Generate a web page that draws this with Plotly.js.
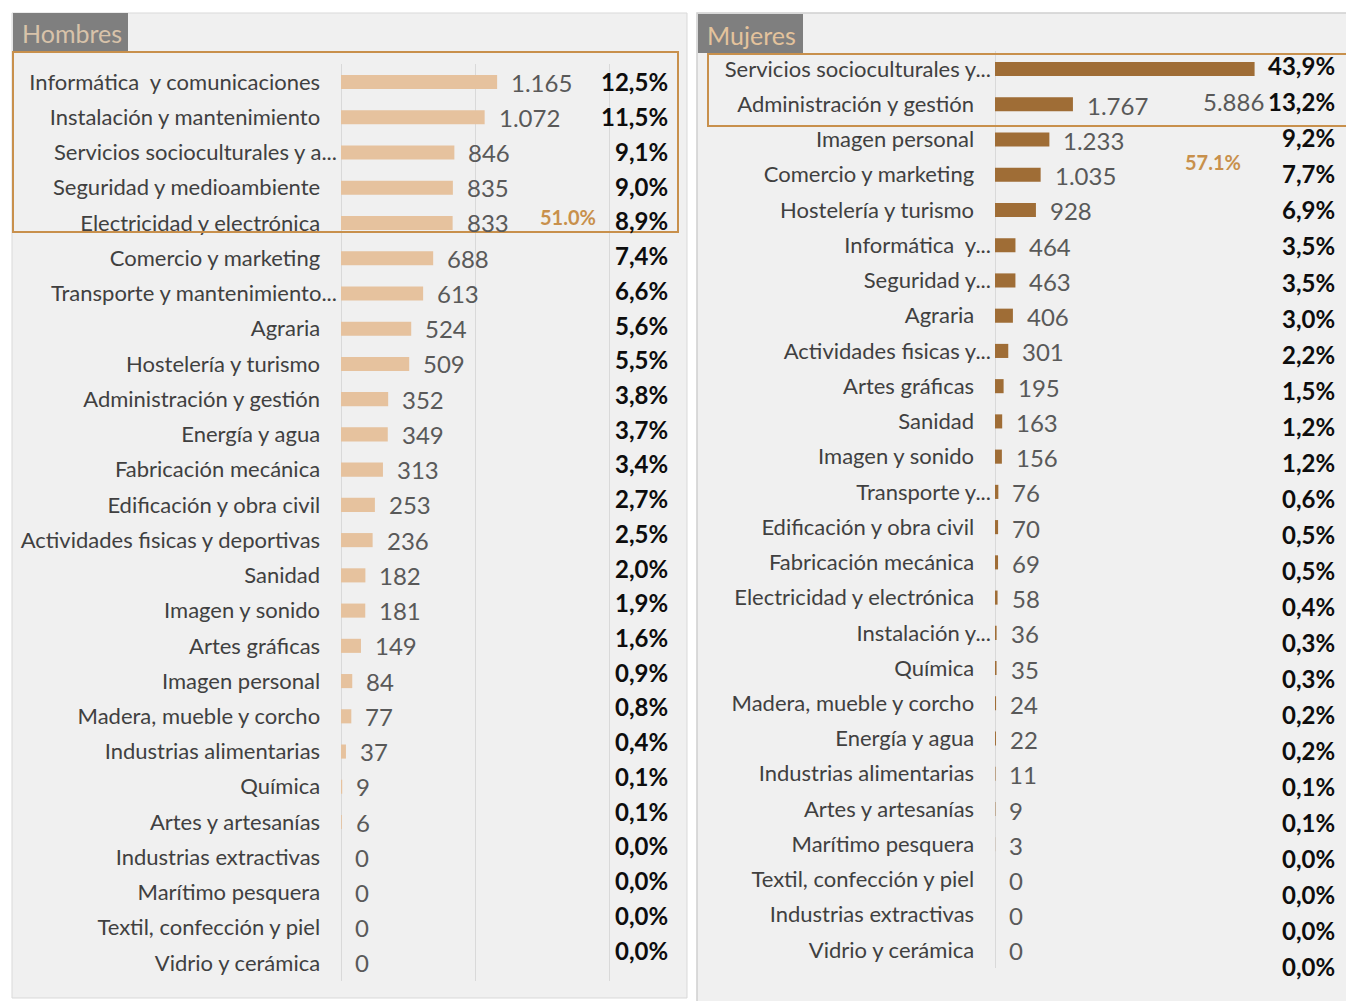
<!DOCTYPE html>
<html><head><meta charset="utf-8">
<script src="https://cdn.plot.ly/plotly-3.0.1.min.js"></script>
<style>html,body{margin:0;padding:0;background:#fff}#chart{width:1346px;height:1001px}</style>
</head><body><div id="chart"></div>
<script>
// ---------- DATA ----------
const catsH = ["Informática  y comunicaciones","Instalación y mantenimiento","Servicios socioculturales y a...","Seguridad y medioambiente","Electricidad y electrónica","Comercio y marketing","Transporte y mantenimiento...","Agraria","Hostelería y turismo","Administración y gestión","Energía y agua","Fabricación mecánica","Edificación y obra civil","Actividades fisicas y deportivas","Sanidad","Imagen y sonido","Artes gráficas","Imagen personal","Madera, mueble y corcho","Industrias alimentarias","Química","Artes y artesanías","Industrias extractivas","Marítimo pesquera","Textil, confección y piel","Vidrio y cerámica"];
const valsH = [1165,1072,846,835,833,688,613,524,509,352,349,313,253,236,182,181,149,84,77,37,9,6,0,0,0,0];
const pctH  = [12.5,11.5,9.1,9.0,8.9,7.4,6.6,5.6,5.5,3.8,3.7,3.4,2.7,2.5,2.0,1.9,1.6,0.9,0.8,0.4,0.1,0.1,0.0,0.0,0.0,0.0];

const catsM = ["Servicios socioculturales y...","Administración y gestión","Imagen personal","Comercio y marketing","Hostelería y turismo","Informática  y...","Seguridad y...","Agraria","Actividades fisicas y...","Artes gráficas","Sanidad","Imagen y sonido","Transporte y...","Edificación y obra civil","Fabricación mecánica","Electricidad y electrónica","Instalación y...","Química","Madera, mueble y corcho","Energía y agua","Industrias alimentarias","Artes y artesanías","Marítimo pesquera","Textil, confección y piel","Industrias extractivas","Vidrio y cerámica"];
const valsM = [5886,1767,1233,1035,928,464,463,406,301,195,163,156,76,70,69,58,36,35,24,22,11,9,3,0,0,0];
const pctM  = [43.9,13.2,9.2,7.7,6.9,3.5,3.5,3.0,2.2,1.5,1.2,1.2,0.6,0.5,0.5,0.4,0.3,0.3,0.2,0.2,0.1,0.1,0.0,0.0,0.0,0.0];

const panelTitles = ["Hombres","Mujeres"];
const topShare = ["51.0%","57.1%"];

// ---------- HELPERS ----------
const W = 1346, H = 1001;
const px = x => x / W;
const py = y => 1 - y / H;
const fmtNum = n => String(n).replace(/\B(?=(\d{3})+(?!\d))/g, '.');
const fmtPct = p => p.toFixed(1).replace('.', ',') + '%';
const pad = s => s.endsWith('...') ? s : s + '\u00a0\u00a0\u00a0';
const FONT = 'Lato, "Open Sans", sans-serif';

const lightBar = '#e6c29e';
const darkBar = '#9f6d36';
const orange = '#c8904c';
const labelGrey = '#595959';
const catGrey = '#404040';

const traces = [
  {type:'bar', orientation:'h', x:valsH, y:catsH, xaxis:'x', yaxis:'y',
   marker:{color:lightBar}, hoverinfo:'skip'},
  {type:'bar', orientation:'h', x:valsM, y:catsM, xaxis:'x2', yaxis:'y3',
   marker:{color:darkBar}, hoverinfo:'skip'}
];

const annotations = [];
const numFont = {family:FONT, size:24, color:labelGrey};
const pctFont = {family:FONT, size:24, color:'#0d0d0d', weight:'bold'};

valsH.forEach((v,i) => annotations.push({xref:'x', yref:'y', x:v, y:catsH[i],
  text:fmtNum(v), xanchor:'left', xshift:12, yshift:0, showarrow:false, font:numFont}));
pctH.forEach((p,i) => annotations.push({xref:'x domain', yref:'y2', x:1, y:i,
  text:'<b>'+fmtPct(p)+'</b>', xanchor:'right', xshift:-6, showarrow:false, font:pctFont}));

valsM.forEach((v,i) => { if (i === 0) return;
  annotations.push({xref:'x2', yref:'y3', x:v, y:catsM[i],
  text:fmtNum(v), xanchor:'left', xshift:12, yshift:-1, showarrow:false, font:numFont}); });
// displaced label of the first (largest) bar
annotations.push({xref:'x2', yref:'y3', x:valsM[0], y:catsM[0], text:fmtNum(valsM[0]),
  xanchor:'right', xshift:11, yshift:-32, showarrow:false, font:numFont});
pctM.forEach((p,i) => annotations.push({xref:'x2 domain', yref:'y4', x:1, y:i,
  text:'<b>'+fmtPct(p)+'</b>', xanchor:'right', xshift:-2, showarrow:false, font:pctFont}));

// titles
annotations.push({xref:'paper', yref:'paper', x:px(20), y:py(33), xanchor:'left', yanchor:'middle',
  text:panelTitles[0], showarrow:false, font:{family:FONT, size:25, color:'#d8c3aa'}});
annotations.push({xref:'paper', yref:'paper', x:px(705), y:py(35), xanchor:'left', yanchor:'middle',
  text:panelTitles[1], showarrow:false, font:{family:FONT, size:25, color:'#e4c39c'}});
// share annotations
annotations.push({xref:'paper', yref:'paper', x:px(568), y:py(217), xanchor:'center', yanchor:'middle',
  text:'<b>'+topShare[0]+'</b>', showarrow:false, font:{family:FONT, size:20, color:orange}});
annotations.push({xref:'paper', yref:'paper', x:px(1213), y:py(162), xanchor:'center', yanchor:'middle',
  text:'<b>'+topShare[1]+'</b>', showarrow:false, font:{family:FONT, size:20, color:orange}});

const shapes = [
  {type:'rect', xref:'paper', yref:'paper', x0:px(12), x1:px(687), y0:py(998), y1:py(13),
   fillcolor:'#f0f0f0', line:{color:'#d9d9d9', width:1}, layer:'below'},
  {type:'rect', xref:'paper', yref:'paper', x0:px(697), x1:px(1352), y0:py(1004), y1:py(13),
   fillcolor:'#f0f0f0', line:{color:'#cfcfcf', width:1.5}, layer:'below'},
  {type:'rect', xref:'paper', yref:'paper', x0:px(13), x1:px(128), y0:py(52), y1:py(13),
   fillcolor:'#7f7f7f', line:{width:0}, layer:'below'},
  {type:'rect', xref:'paper', yref:'paper', x0:px(698), x1:px(803), y0:py(53), y1:py(14),
   fillcolor:'#7f7f7f', line:{width:0}, layer:'below'},
  {type:'rect', xref:'paper', yref:'paper', x0:px(13), x1:px(678), y0:py(232), y1:py(52),
   line:{color:orange, width:2}, layer:'above'},
  {type:'rect', xref:'paper', yref:'paper', x0:px(708), x1:px(1356), y0:py(126), y1:py(54),
   line:{color:orange, width:2}, layer:'above'}
];

const tickFont = {family:FONT, size:22, color:catGrey};

const layout = {
  width:W, height:H, margin:{l:0,r:0,t:0,b:0},
  paper_bgcolor:'#ffffff', plot_bgcolor:'rgba(0,0,0,0)',
  showlegend:false, bargap:0.6,
  font:{family:FONT},
  xaxis:{domain:[px(341), px(676)], range:[0,2500], anchor:'y',
    showgrid:true, gridcolor:'#d9d9d9', gridwidth:1, tick0:0, dtick:1000,
    zeroline:true, zerolinecolor:'#d9d9d9', zerolinewidth:1,
    showticklabels:false, ticks:'', showline:false, fixedrange:true},
  yaxis:{domain:[py(980.6), py(64.4)], type:'category', range:[25.5,-0.5], anchor:'x',
    tickvals:catsH, ticktext:catsH.map(pad), tickfont:tickFont, ticks:'',
    ticklabelstandoff:3, showgrid:false, zeroline:false, showline:false, fixedrange:true},
  yaxis2:{overlaying:'y', anchor:'x', type:'linear', range:[25.88,-0.507], visible:false, fixedrange:true},
  xaxis2:{domain:[px(995), px(1339)], range:[0,7800], anchor:'y3',
    showgrid:false, zeroline:true, zerolinecolor:'#d9d9d9', zerolinewidth:1,
    showticklabels:false, ticks:'', showline:false, fixedrange:true},
  yaxis3:{domain:[py(967.6), py(51.4)], type:'category', range:[25.5,-0.5], anchor:'x2',
    tickvals:catsM, ticktext:catsM.map(pad), tickfont:tickFont, ticks:'',
    ticklabelstandoff:3, showgrid:false, zeroline:false, showline:false, fixedrange:true},
  yaxis4:{overlaying:'y3', anchor:'x2', type:'linear', range:[25.044,-0.4056], visible:false, fixedrange:true},
  shapes:shapes,
  annotations:annotations
};

Plotly.newPlot('chart', traces, layout, {staticPlot:true, displayModeBar:false});
</script>
</body></html>
